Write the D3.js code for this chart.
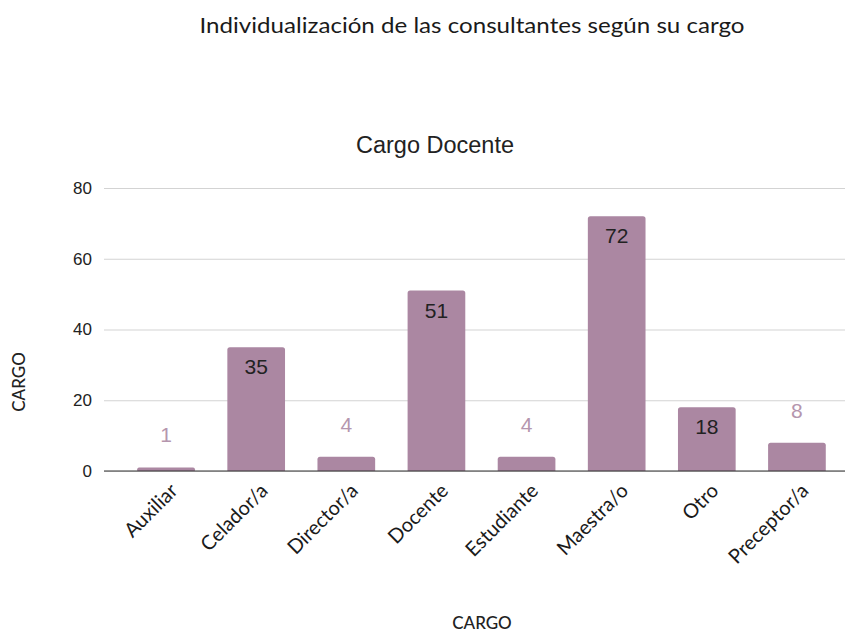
<!DOCTYPE html>
<html><head><meta charset="utf-8">
<script src="https://cdn.jsdelivr.net/npm/d3@7"></script>
<style>body{margin:0;background:#fff;} svg{display:block;}</style>
</head><body>
<svg id="c" width="850" height="632"></svg>
<script>
const categories = ["Auxiliar","Celador/a","Director/a","Docente","Estudiante","Maestra/o","Otro","Preceptor/a"];
const values = [1,35,4,51,4,72,18,8];
const yTicks = [0,20,40,60,80];
const title = "Individualización de las consultantes según su cargo";
const subtitle = "Cargo Docente";
const xTitle = "CARGO", yTitle = "CARGO";

const svg = d3.select("#c");
const barColor = "#ab87a2";
const x = d3.scaleBand().domain(categories).range([121, 842]).paddingInner(0.36).paddingOuter(0.18);
const y = d3.scaleLinear().domain([0,80]).range([471, 188]);

svg.append("text").attr("x",472).attr("y",33).attr("text-anchor","middle")
  .attr("font-family","Lato, sans-serif").attr("font-size",21).attr("fill","#1a1a1a")
  .attr("textLength",545).attr("lengthAdjust","spacingAndGlyphs").text(title);
svg.append("text").attr("x",435).attr("y",153).attr("text-anchor","middle")
  .attr("font-family","'Liberation Sans', Arial, sans-serif").attr("font-size",23.5).attr("fill","#222").text(subtitle);

// grid
const yAxis = d3.axisLeft(y).tickValues(yTicks).tickSize(-741).tickPadding(20);
const gy = svg.append("g").attr("transform","translate(104,0)").call(yAxis);
gy.select(".domain").remove();
gy.selectAll(".tick line").attr("stroke","#d3d3d3").attr("stroke-width",1);
gy.selectAll(".tick text").attr("font-family","'Liberation Sans', Arial, sans-serif").attr("font-size",17).attr("fill","#222").attr("dx","8");

// bars
svg.append("g").selectAll("path").data(values).join("path")
  .attr("fill", barColor)
  .attr("d",(d,i)=>{
    const x0=x(categories[i]), w=x.bandwidth(), y0=y(d), y1=y(0), r=Math.min(2.5,(y1-y0)/2);
    return `M${x0},${y1}V${y0+r}Q${x0},${y0} ${x0+r},${y0}H${x0+w-r}Q${x0+w},${y0} ${x0+w},${y0+r}V${y1}Z`;
  });

// baseline
svg.append("line").attr("x1",104).attr("x2",845).attr("y1",y(0)).attr("y2",y(0)).attr("stroke","#333").attr("stroke-width",1.2);

// labels
svg.append("g").selectAll("text").data(values).join("text")
  .attr("x",(d,i)=>x(categories[i])+x.bandwidth()/2)
  .attr("y",d=> d>=15 ? y(d)+27 : y(d)-25)
  .attr("text-anchor","middle")
  .attr("font-family","'Liberation Sans', Arial, sans-serif").attr("font-size",21)
  .attr("fill",d=> d>=15 ? "#222" : "#b596ae")
  .text(d=>d);

// x axis labels
const xAxis = d3.axisBottom(x).tickSize(0).tickPadding(0);
const gx = svg.append("g").attr("transform",`translate(0,${y(0)})`).call(xAxis);
gx.select(".domain").remove();
gx.selectAll(".tick text")
  .attr("font-family","Lato, sans-serif").attr("font-size",20).attr("fill","#1a1a1a")
  .attr("text-anchor","end").attr("dy","0.35em")
  .attr("transform","translate(8,16) rotate(-45)");

svg.append("text").attr("x",482).attr("y",629).attr("text-anchor","middle")
  .attr("font-family","Lato, sans-serif").attr("font-size",17).attr("font-weight",500).attr("fill","#222").text(xTitle);
svg.append("text").attr("transform","translate(25,382) rotate(-90)").attr("text-anchor","middle")
  .attr("font-family","Lato, sans-serif").attr("font-size",17).attr("font-weight",500).attr("fill","#222").text(yTitle);
</script>
</body></html>
